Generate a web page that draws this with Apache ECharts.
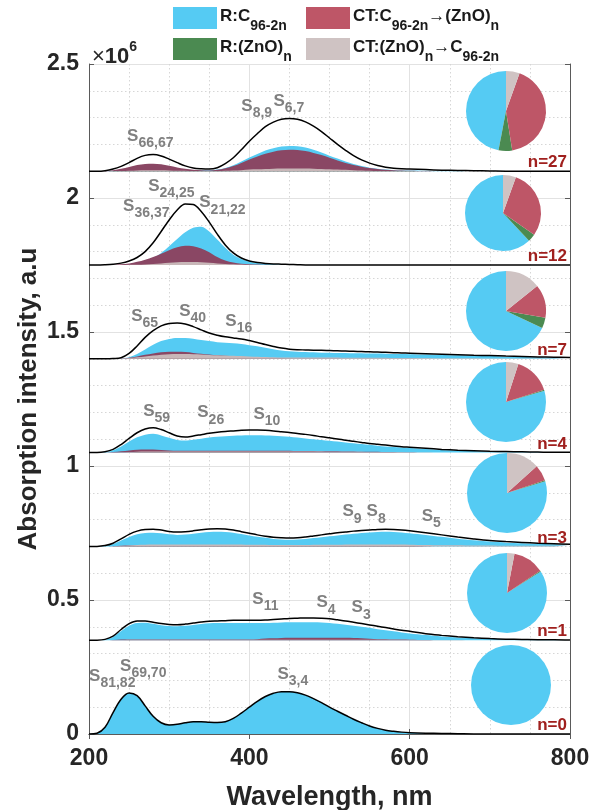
<!DOCTYPE html>
<html><head><meta charset="utf-8">
<script src="https://cdn.jsdelivr.net/npm/echarts@6/dist/echarts.min.js"></script>
<style>html,body{margin:0;padding:0;background:#fff}#c{width:589px;height:810px}</style>
</head><body><div id="c"></div><script>
// ---------- data (values in units of 10^6, relative to each panel baseline) ----------
const WL = [200,210,220,230,240,250,260,270,280,290,300,310,320,330,340,350,360,370,380,390,400,410,420,430,440,450,460,470,480,490,500,510,520,530,540,550,560,570,580,590,600,620,640,660,680,700,720,740,760,780,800];
const BASES = [2.10, 1.75, 1.40, 1.05, 0.70, 0.35, 0];
const PANEL_LABELS = ['n=27','n=12','n=7','n=4','n=3','n=1','n=0'];
const SERIES_NAMES = ['R:C96-2n','R:(ZnO)n','CT:C96-2n→(ZnO)n','CT:(ZnO)n→C96-2n'];

// n = 27
const tot27 = [0,0,0.002,0.008,0.018, 0.032,0.048,0.059,0.062,0.057, 0.045,0.032,0.02,0.012,0.009, 0.008,0.013,0.028,0.05,0.08, 0.112,0.14,0.166,0.183,0.194, 0.197,0.194,0.184,0.168,0.148, 0.124,0.1,0.078,0.058,0.042, 0.03,0.021,0.015,0.011,0.009, 0.008, 0.006,0.004,0.003,0.002,0.001, 0,0,0,0,0];
const blue27 = [0,0,0,0.002,0.004, 0.007,0.013,0.016,0.018,0.017, 0.013,0.008,0.005,0.004,0.004, 0.004,0.006,0.012,0.022,0.036, 0.051,0.064,0.077,0.086,0.092, 0.094,0.093,0.088,0.08,0.07, 0.058,0.047,0.036,0.027,0.019, 0.013,0.009,0.006,0.004,0.003, 0.003, 0.002,0.001,0.001,0,0, 0,0,0,0,0];
const green27 = [0,0,0,0.001,0.002, 0.003,0.004,0.005,0.005,0.005, 0.004,0.003,0.002,0.001,0.001, 0.001,0.001,0.002,0.003,0.005, 0.007,0.008,0.01,0.011,0.012, 0.012,0.012,0.011,0.01,0.009, 0.007,0.006,0.005,0.004,0.003, 0.002,0.001,0.001,0.001,0.001, 0.001, 0,0,0,0,0, 0,0,0,0,0];
const red27 = [0,0,0.001,0.004,0.009, 0.016,0.023,0.027,0.028,0.026, 0.02,0.014,0.009,0.005,0.004, 0.003,0.005,0.011,0.019,0.031, 0.044,0.055,0.065,0.073,0.078, 0.08,0.079,0.075,0.068,0.06, 0.05,0.04,0.031,0.023,0.017, 0.012,0.008,0.005,0.004,0.003, 0.002, 0.001,0,0,0,0, 0,0,0,0,0];
const gray27 = [0,0,0,0,0.001, 0.002,0.003,0.004,0.004,0.004, 0.003,0.002,0.002,0.001,0.001, 0.001,0.001,0.002,0.003,0.004, 0.006,0.007,0.008,0.009,0.01, 0.01,0.01,0.01,0.009,0.008, 0.007,0.006,0.005,0.004,0.003, 0.002,0.001,0.001,0.001,0, 0, 0,0,0,0,0, 0,0,0,0,0];

// n = 12
const tot12 = [0,0,0.001,0.003,0.007, 0.015,0.028,0.05,0.083,0.125, 0.168,0.205,0.228,0.226,0.2, 0.16,0.115,0.075,0.045,0.026, 0.015,0.009,0.006,0.004,0.003, 0.002,0.001,0,0,0, 0,0,0,0,0, 0,0,0,0,0, 0, 0,0,0,0,0, 0,0,0,0,0];
const blue12 = [0,0,0,0,0, 0.002,0.005,0.01,0.025,0.045, 0.07,0.097,0.122,0.139,0.143, 0.125,0.095,0.064,0.038,0.022, 0.012,0.007,0.004,0.003,0.002, 0.001,0,0,0,0, 0,0,0,0,0, 0,0,0,0,0, 0, 0,0,0,0,0, 0,0,0,0,0];
const green12 = [0,0,0,0,0, 0,0.001,0.001,0.002,0.003, 0.004,0.006,0.007,0.007,0.006, 0.005,0.003,0.002,0.001,0.001, 0,0,0,0,0, 0,0,0,0,0, 0,0,0,0,0, 0,0,0,0,0, 0, 0,0,0,0,0, 0,0,0,0,0];
const red12 = [0,0,0,0.001,0.003, 0.006,0.012,0.02,0.03,0.042, 0.055,0.066,0.072,0.07,0.062, 0.048,0.03,0.017,0.009,0.005, 0.003,0.002,0.001,0,0, 0,0,0,0,0, 0,0,0,0,0, 0,0,0,0,0, 0, 0,0,0,0,0, 0,0,0,0,0];
const gray12 = [0,0,0,0,0, 0.001,0.001,0.002,0.004,0.006, 0.008,0.01,0.011,0.011,0.01, 0.008,0.006,0.004,0.003,0.002, 0.001,0.001,0,0,0, 0,0,0,0,0, 0,0,0,0,0, 0,0,0,0,0, 0, 0,0,0,0,0, 0,0,0,0,0];

// n = 7
const tot7 = [0,0,0,0.001,0.004, 0.02,0.048,0.08,0.105,0.123, 0.132,0.134,0.13,0.12,0.108, 0.096,0.088,0.082,0.078,0.074, 0.068,0.061,0.053,0.046,0.04, 0.036,0.034,0.033,0.032,0.032, 0.031,0.03,0.029,0.028,0.027, 0.026,0.025,0.024,0.023,0.022, 0.021, 0.019,0.017,0.015,0.013,0.012, 0.01,0.009,0.007,0.006,0.005];
const blue7 = [0,0,0,0,0.001, 0.006,0.018,0.035,0.052,0.066, 0.074,0.078,0.078,0.075,0.07, 0.066,0.062,0.06,0.058,0.055, 0.051,0.047,0.041,0.036,0.031, 0.028,0.026,0.025,0.024,0.023, 0.023,0.022,0.022,0.021,0.021, 0.02,0.02,0.019,0.018,0.018, 0.017, 0.016,0.014,0.013,0.011,0.01, 0.008,0.007,0.006,0.005,0.004];
const green7 = [0,0,0,0,0, 0.001,0.002,0.003,0.004,0.004, 0.004,0.004,0.004,0.004,0.003, 0.003,0.003,0.002,0.002,0.002, 0.002,0.002,0.001,0.001,0.001, 0.001,0,0,0,0, 0,0,0,0,0, 0,0,0,0,0, 0, 0,0,0,0,0, 0,0,0,0,0];
const red7 = [0,0,0,0,0.001, 0.004,0.009,0.015,0.02,0.024, 0.026,0.026,0.025,0.022,0.019, 0.016,0.013,0.011,0.009,0.008, 0.006,0.005,0.004,0.003,0.003, 0.002,0.002,0.002,0.002,0.002, 0.002,0.002,0.001,0.001,0.001, 0.001,0.001,0.001,0.001,0.001, 0.001, 0,0,0,0,0, 0,0,0,0,0];
const gray7 = [0,0,0,0,0.001, 0.003,0.006,0.009,0.012,0.015, 0.017,0.018,0.018,0.017,0.016, 0.014,0.013,0.012,0.011,0.01, 0.009,0.008,0.007,0.006,0.005, 0.005,0.005,0.005,0.005,0.005, 0.005,0.005,0.004,0.004,0.004, 0.004,0.004,0.004,0.003,0.003, 0.003, 0.003,0.002,0.002,0.002,0.001, 0.001,0.001,0.001,0.001,0];

// n = 4
const tot4 = [0,0,0.003,0.012,0.03, 0.053,0.074,0.088,0.093,0.086, 0.074,0.062,0.058,0.062,0.067, 0.072,0.076,0.079,0.081,0.083, 0.084,0.084,0.083,0.081,0.078, 0.075,0.071,0.068,0.064,0.059, 0.055,0.051,0.046,0.042,0.038, 0.034,0.031,0.028,0.025,0.022, 0.02, 0.016,0.012,0.009,0.007,0.005, 0.004,0.003,0.002,0.001,0.001];
const blue4 = [0,0,0.002,0.009,0.023, 0.041,0.057,0.067,0.07,0.064, 0.055,0.047,0.045,0.048,0.052, 0.056,0.059,0.061,0.063,0.064, 0.065,0.065,0.064,0.063,0.061, 0.059,0.056,0.053,0.05,0.047, 0.044,0.041,0.038,0.035,0.032, 0.029,0.026,0.023,0.021,0.019, 0.017, 0.013,0.01,0.008,0.006,0.004, 0.003,0.002,0.002,0.001,0.001];
const green4 = [0,0,0,0,0, 0,0.001,0.001,0.001,0.001, 0.001,0.001,0.001,0.001,0.001, 0.001,0.001,0.001,0.001,0.001, 0.001,0.001,0.001,0.001,0.001, 0.001,0,0,0,0, 0,0,0,0,0, 0,0,0,0,0, 0, 0,0,0,0,0, 0,0,0,0,0];
const red4 = [0,0,0,0.002,0.005, 0.008,0.011,0.012,0.012,0.01, 0.008,0.007,0.007,0.007,0.007, 0.007,0.007,0.007,0.007,0.007, 0.007,0.007,0.007,0.007,0.007, 0.007,0.006,0.006,0.006,0.005, 0.005,0.005,0.004,0.004,0.003, 0.003,0.003,0.002,0.002,0.001, 0.001, 0,0,0,0,0, 0,0,0,0,0];
const gray4 = [0,0,0,0,0.001, 0.002,0.003,0.004,0.004,0.004, 0.004,0.004,0.004,0.004,0.004, 0.004,0.004,0.004,0.004,0.004, 0.004,0.004,0.004,0.004,0.004, 0.004,0.004,0.004,0.004,0.004, 0.003,0.003,0.003,0.003,0.003, 0.002,0.002,0.002,0.002,0.002, 0.001, 0.001,0,0,0,0, 0,0,0,0,0];

// n = 3
const tot3 = [0,0,0.003,0.012,0.028, 0.045,0.057,0.063,0.064,0.061, 0.056,0.054,0.055,0.058,0.062, 0.065,0.066,0.065,0.061,0.055, 0.049,0.043,0.038,0.034,0.032, 0.031,0.032,0.035,0.039,0.043, 0.047,0.051,0.054,0.057,0.059, 0.061,0.063,0.064,0.063,0.061, 0.058, 0.051,0.043,0.035,0.028,0.022, 0.018,0.015,0.012,0.01,0.008];
const blue3 = [0,0,0.002,0.009,0.022, 0.035,0.045,0.05,0.051,0.049, 0.045,0.043,0.044,0.047,0.051, 0.054,0.055,0.054,0.051,0.046, 0.041,0.036,0.032,0.028,0.026, 0.025,0.026,0.028,0.031,0.034, 0.038,0.041,0.044,0.047,0.05, 0.052,0.054,0.055,0.054,0.052, 0.049, 0.043,0.036,0.029,0.023,0.018, 0.014,0.012,0.01,0.008,0.006];
const green3 = [0,0,0,0,0, 0.001,0.001,0.001,0.001,0.001, 0.001,0.001,0.001,0.001,0.001, 0.001,0.001,0.001,0.001,0.001, 0.001,0.001,0.001,0.001,0.001, 0.001,0.001,0.001,0.001,0.001, 0.001,0.001,0.001,0.001,0.001, 0.001,0.001,0.001,0.001,0.001, 0.001, 0,0,0,0,0, 0,0,0,0,0];
const red3 = [0,0,0,0.001,0.002, 0.003,0.003,0.004,0.004,0.004, 0.004,0.004,0.004,0.004,0.004, 0.004,0.004,0.004,0.004,0.004, 0.004,0.004,0.004,0.003,0.003, 0.003,0.003,0.003,0.003,0.003, 0.003,0.003,0.003,0.003,0.003, 0.003,0.003,0.003,0.003,0.003, 0.002, 0.001,0,0,0,0, 0,0,0,0,0];
const gray3 = [0,0,0,0,0.002, 0.003,0.005,0.006,0.007,0.007, 0.007,0.007,0.007,0.007,0.007, 0.007,0.007,0.007,0.007,0.007, 0.006,0.006,0.006,0.005,0.005, 0.005,0.005,0.005,0.006,0.006, 0.006,0.006,0.007,0.007,0.007, 0.007,0.007,0.007,0.007,0.007, 0.006, 0.005,0.004,0.004,0.003,0.003, 0.002,0.002,0.002,0.002,0.002];

// n = 1
const tot1 = [0,0,0.003,0.015,0.04, 0.062,0.072,0.072,0.067,0.062, 0.059,0.058,0.06,0.064,0.068, 0.071,0.072,0.073,0.074,0.074, 0.074,0.074,0.075,0.077,0.079, 0.081,0.082,0.083,0.083,0.082, 0.08,0.076,0.072,0.067,0.062, 0.057,0.052,0.047,0.042,0.037, 0.033, 0.024,0.018,0.013,0.009,0.006, 0.004,0.003,0.002,0.002,0.001];
const blue1 = [0,0,0.002,0.012,0.034, 0.054,0.064,0.065,0.061,0.056, 0.053,0.052,0.054,0.057,0.06, 0.063,0.064,0.064,0.064,0.064, 0.064,0.064,0.064,0.065,0.066, 0.067,0.067,0.067,0.067,0.066, 0.064,0.061,0.058,0.054,0.05, 0.046,0.041,0.037,0.033,0.029, 0.025, 0.019,0.014,0.01,0.007,0.005, 0.003,0.002,0.002,0.001,0.001];
const green1 = [0,0,0,0,0, 0,0,0,0,0, 0,0,0,0,0, 0,0,0,0,0, 0,0,0,0,0, 0,0,0,0,0, 0,0,0,0,0, 0,0,0,0,0, 0, 0,0,0,0,0, 0,0,0,0,0];
const red1 = [0,0,0,0.001,0.003, 0.003,0.003,0.003,0.003,0.003, 0.003,0.003,0.003,0.003,0.003, 0.003,0.003,0.003,0.003,0.003, 0.003,0.004,0.006,0.007,0.008, 0.009,0.009,0.009,0.009,0.009, 0.009,0.009,0.009,0.008,0.007, 0.005,0.004,0.004,0.003,0.003, 0.002, 0.001,0,0,0,0, 0,0,0,0,0];
const gray1 = [0,0,0,0,0, 0.002,0.002,0.002,0.002,0.002, 0.002,0.002,0.002,0.002,0.002, 0.002,0.002,0.002,0.002,0.002, 0.002,0.002,0.002,0.002,0.002, 0.002,0.002,0.002,0.002,0.002, 0.002,0.002,0.002,0.002,0.002, 0.002,0.002,0.002,0.002,0.002, 0.002, 0.001,0.001,0.001,0,0, 0,0,0,0,0];

// n = 0 (only R:C96-2n contributes)
const tot0 = [0,0.003,0.025,0.08,0.13, 0.153,0.143,0.105,0.066,0.042, 0.034,0.036,0.042,0.046,0.046, 0.044,0.043,0.046,0.058,0.078, 0.1,0.122,0.14,0.152,0.158, 0.158,0.154,0.145,0.132,0.117, 0.1,0.085,0.07,0.055,0.042, 0.03,0.021,0.014,0.01,0.007, 0.005, 0.003,0.002,0.001,0,0, 0,0,0,0,0];
const blue0 = [0,0.003,0.025,0.08,0.13, 0.153,0.143,0.105,0.066,0.042, 0.034,0.036,0.042,0.046,0.046, 0.044,0.043,0.046,0.058,0.078, 0.1,0.122,0.14,0.152,0.158, 0.158,0.154,0.145,0.132,0.117, 0.1,0.085,0.07,0.055,0.042, 0.03,0.021,0.014,0.01,0.007, 0.005, 0.003,0.002,0.001,0,0, 0,0,0,0,0];

// pie shares [R:C, R:(ZnO), CT:C->ZnO, CT:ZnO->C] in %
const pie27 = [47, 5.5, 42, 5.5];
const pie12 = [62, 3.3, 29.2, 5.5];
const pie7  = [68, 4.3, 13.5, 14.2];
const pie4  = [79.5, 0.5, 15, 5];
const pie3  = [79.7, 0.5, 6.5, 13.3];
const pie1  = [84, 0.4, 12.6, 3];
const pie0  = [100, 0, 0, 0];

// peak labels: panel index, subscript, wavelength, height above panel baseline
const LABEL_PANEL = [0,0,0, 1,1,1, 2,2,2, 3,3,3, 4,4,4, 5,5,5, 6,6,6];
const LABEL_SUB = ['66,67','8,9','6,7', '24,25','36,37','21,22', '65','40','16', '59','26','10', '9','8','5', '11','4','3', '81,82','69,70','3,4'];
const LABEL_NM = [248.8,391.3,431.3, 275,243.8,338.8, 253.8,313.8,371.3, 268.8,336.3,406.3, 517.5,547.5,616.3, 405,485,528.8, 201.3,240,436.3];
const LABEL_REL = [0.131,0.243,0.262, 0.295,0.220,0.233, 0.160,0.178,0.141, 0.155,0.150,0.144, 0.130,0.130,0.113, 0.154,0.141,0.122, 0.216,0.254,0.224];

// ---------- layout / style ----------
const FF = '"Liberation Sans", Arial, Helvetica, sans-serif';
const FILL = ['#55CBF3', '#4B8A51', '#8A4764', '#C8B7B8'];
const PIECOL = ['#55CBF3', '#4B8A51', '#BE5667', '#CFC3C3'];
const PIE_POS = [[506,111,40],[503,213,38],[506,311,40],[506,402,40],[507,493,40],[507,593,40],[511,685,40]];

const PANELS = [
  {tot: tot27, comps: [blue27, green27, red27, gray27], pie: pie27},
  {tot: tot12, comps: [blue12, green12, red12, gray12], pie: pie12},
  {tot: tot7,  comps: [blue7, green7, red7, gray7], pie: pie7},
  {tot: tot4,  comps: [blue4, green4, red4, gray4], pie: pie4},
  {tot: tot3,  comps: [blue3, green3, red3, gray3], pie: pie3},
  {tot: tot1,  comps: [blue1, green1, red1, gray1], pie: pie1},
  {tot: tot0,  comps: [blue0], pie: pie0}
];

const chart = echarts.init(document.getElementById('c'), null, {renderer: 'canvas'});
const series = [];
PANELS.forEach((p, i) => {
  const base = BASES[i];
  p.comps.forEach((arr, k) => {
    series.push({
      type: 'line', name: SERIES_NAMES[k], xAxisIndex: 0, yAxisIndex: 0,
      data: WL.map((x, j) => [x, base + arr[j]]),
      smooth: 0.35, symbol: 'none', silent: true, z: 2,
      lineStyle: {width: 0, opacity: 0},
      itemStyle: {color: FILL[k]},
      areaStyle: {color: FILL[k], opacity: 1, origin: base}
    });
  });
});
PANELS.forEach((p, i) => {
  const base = BASES[i];
  series.push({
    type: 'line', name: 'total', xAxisIndex: 0, yAxisIndex: 0,
    data: WL.map((x, j) => [x, base + p.tot[j]]),
    smooth: 0.35, symbol: 'none', silent: true, z: 3,
    lineStyle: {color: '#000', width: 1.5}
  });
});
PANELS.forEach((p, i) => {
  const pos = PIE_POS[i];
  series.push({
    type: 'pie', center: [pos[0], pos[1]], radius: pos[2],
    clockwise: false, startAngle: 90, silent: true, z: 5,
    label: {show: false}, labelLine: {show: false},
    itemStyle: {borderWidth: 0},
    emphasis: {disabled: true},
    data: p.pie.map((v, k) => ({value: v, name: SERIES_NAMES[k], itemStyle: {color: PIECOL[k]}}))
  });
});

const axisCol = '#5a5a5a';
const tickLab = {fontSize: 23, fontWeight: 'bold', color: '#262626', fontFamily: FF};
chart.setOption({
  animation: false,
  backgroundColor: '#fff',
  grid: {left: 89, right: 19, top: 64, bottom: 76, containLabel: false, outerBoundsMode: 'none'},
  xAxis: [{
    type: 'value', min: 200, max: 800, interval: 200, position: 'bottom',
    axisLine: {show: true, lineStyle: {color: axisCol, width: 1}},
    axisTick: {show: true, inside: true, length: 5, lineStyle: {color: axisCol}},
    axisLabel: Object.assign({margin: 13}, tickLab),
    splitLine: {show: true, lineStyle: {color: '#e2e2e2', width: 1}},
    minorTick: {show: false, splitNumber: 4},
    minorSplitLine: {show: true, lineStyle: {color: '#d6d6d6', width: 1, type: [1.5, 2.5]}},
    name: 'Wavelength, nm', nameLocation: 'middle', nameGap: 50,
    nameTextStyle: {fontSize: 27, fontWeight: 'bold', color: '#262626', fontFamily: FF}
  }, {
    type: 'value', min: 200, max: 800, interval: 200, position: 'top',
    axisLine: {show: true, lineStyle: {color: axisCol, width: 1}},
    axisTick: {show: true, inside: true, length: 5, lineStyle: {color: axisCol}},
    axisLabel: {show: false}, splitLine: {show: false}
  }],
  yAxis: [{
    type: 'value', min: 0, max: 2.5, interval: 0.5, position: 'left',
    axisLine: {show: true, lineStyle: {color: axisCol, width: 1}},
    axisTick: {show: true, inside: true, length: 5, lineStyle: {color: axisCol}},
    axisLabel: Object.assign({margin: 10}, tickLab),
    splitLine: {show: true, lineStyle: {color: '#e2e2e2', width: 1}},
    minorTick: {show: false, splitNumber: 5},
    minorSplitLine: {show: true, lineStyle: {color: '#d6d6d6', width: 1, type: [1.5, 2.5]}},
    name: 'Absorption intensity, a.u', nameLocation: 'middle', nameGap: 47, nameRotate: 90,
    nameMoveOverlap: false,
    nameTextStyle: {fontSize: 26, fontWeight: 'bold', color: '#262626', fontFamily: FF}
  }, {
    type: 'value', min: 0, max: 2.5, interval: 0.5, position: 'right',
    axisLine: {show: true, lineStyle: {color: axisCol, width: 1}},
    axisTick: {show: true, inside: true, length: 5, lineStyle: {color: axisCol}},
    axisLabel: {show: false}, splitLine: {show: false}
  }],
  series: series
});

// ---------- annotations ----------
const F = (w, s) => (w ? 'bold ' : '') + s + 'px ' + FF;
const RICH_LBL = {
  m: {font: F(true, 17), lineHeight: 23, verticalAlign: 'top', fill: '#808080'},
  s: {font: F(true, 14), lineHeight: 23, verticalAlign: 'bottom', fill: '#808080'}
};
const RICH_LEG = {
  m: {font: F(true, 17), lineHeight: 26, verticalAlign: 'top', fill: '#1a1a1a'},
  s: {font: F(true, 14), lineHeight: 26, verticalAlign: 'bottom', fill: '#1a1a1a'}
};
const g = [];
// legend
const legRows = [[7, 0, 2], [38, 1, 3]];
const legText = [
  '{m|R:C}{s|96-2n}', '{m|R:(ZnO)}{s|n}',
  '{m|CT:C}{s|96-2n}{m|→(ZnO)}{s|n}', '{m|CT:(ZnO)}{s|n}{m|→C}{s|96-2n}'
];
legRows.forEach(r => {
  const y = r[0];
  [[r[1], 173, 220], [r[2], 306, 353]].forEach(c => {
    g.push({type: 'rect', shape: {x: c[1], y: y, width: 44, height: 22}, style: {fill: PIECOL[c[0]]}, z: 10});
    g.push({type: 'text', x: c[2], y: y + 0.5, style: {text: legText[c[0]], rich: RICH_LEG, align: 'left', verticalAlign: 'top'}, z: 10});
  });
});
// x10^6
g.push({type: 'text', x: 92, y: 40, z: 10, style: {
  text: '{x|×}{b|10}{p|6}', align: 'left', verticalAlign: 'top',
  rich: {
    x: {font: F(false, 22), lineHeight: 28, verticalAlign: 'bottom', fill: '#262626'},
    b: {font: F(true, 22), lineHeight: 28, verticalAlign: 'bottom', fill: '#262626'},
    p: {font: F(true, 14), lineHeight: 28, verticalAlign: 'top', fill: '#262626'}
  }
}});
BASES.forEach((b, i) => {
  const pt = chart.convertToPixel({gridIndex: 0}, [800, b]);
  g.push({type: 'text', x: pt[0] - 3, y: pt[1], z: 10, style: {
    text: PANEL_LABELS[i], align: 'right', verticalAlign: 'bottom', font: F(true, 17), fill: '#A0201E'}});
});
LABEL_SUB.forEach((sub, i) => {
  const pt = chart.convertToPixel({gridIndex: 0}, [LABEL_NM[i], BASES[LABEL_PANEL[i]] + LABEL_REL[i]]);
  g.push({type: 'text', x: pt[0] - 1, y: pt[1] - 8.5, z: 10, style: {
    text: '{m|S}{s|' + sub + '}', rich: RICH_LBL, align: 'left', verticalAlign: 'top'}});
});
chart.setOption({graphic: g});
</script></body></html>
